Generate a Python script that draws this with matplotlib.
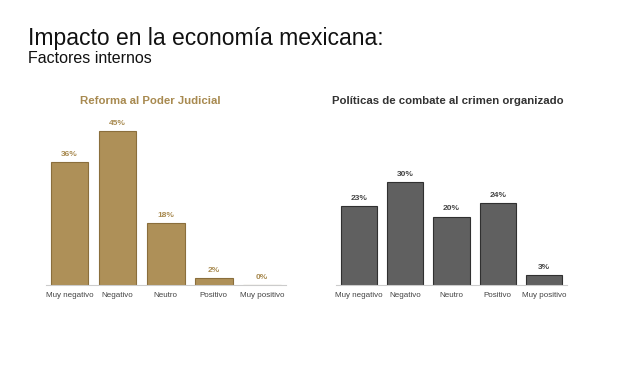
import matplotlib.pyplot as plt

plt.rcParams['font.family'] = ['Liberation Sans', 'DejaVu Sans']

categorias = ['Muy negativo', 'Negativo', 'Neutro', 'Positivo', 'Muy positivo']
reforma = [36, 45, 18, 2, 0]
crimen = [23, 30, 20, 24, 3]

oro = '#AE9058'
oro_borde = '#8A6E3C'
gris = '#606060'
gris_borde = '#303030'

fig = plt.figure(figsize=(6.22, 3.70), dpi=100)

fig.text(28 / 622, 1 - 45 / 370, 'Impacto en la economía mexicana:', fontsize=16.5, color='#111111')
fig.text(28 / 622, 1 - 63 / 370, 'Factores internos', fontsize=11.5, color='#111111')


def panel(rect, valores, titulo, titulo_x, color, borde, color_titulo, color_etiqueta):
    ax = fig.add_axes(rect)
    x = range(len(categorias))
    bars = ax.bar(x, valores, width=0.78, color=color, edgecolor=borde, linewidth=0.8)
    ax.set_xlim(-0.5, len(categorias) - 0.5)
    ax.set_ylim(0, 50)
    for b, v in zip(bars, valores):
        ax.annotate(f'{v}%', (b.get_x() + b.get_width() / 2, b.get_height()),
                    xytext=(0, 3), textcoords='offset points', ha='center', va='bottom',
                    fontsize=6, fontweight='bold', color=color_etiqueta)
    ax.set_xticks(list(x))
    ax.set_xticklabels(categorias, fontsize=5.8, color='#444444')
    ax.tick_params(axis='x', length=0, pad=5)
    ax.set_yticks([])
    for s in ['top', 'right', 'left']:
        ax.spines[s].set_visible(False)
    ax.spines['bottom'].set_color('#cccccc')
    ax.spines['bottom'].set_linewidth(0.8)
    fig.text(titulo_x / 622, 1 - 101 / 370, titulo, ha='center', va='center',
             fontsize=8.2, fontweight='bold', color=color_titulo)
    return ax


bottom = (370 - 285) / 370
height = 171 / 370
panel([45.5 / 622, bottom, 240.5 / 622, height], reforma, 'Reforma al Poder Judicial', 150,
      oro, oro_borde, '#A88A50', '#A88A50')
panel([336 / 622, bottom, 231 / 622, height], crimen, 'Políticas de combate al crimen organizado', 448,
      gris, gris_borde, '#333333', '#444444')

fig.savefig('out.png', dpi=100)
